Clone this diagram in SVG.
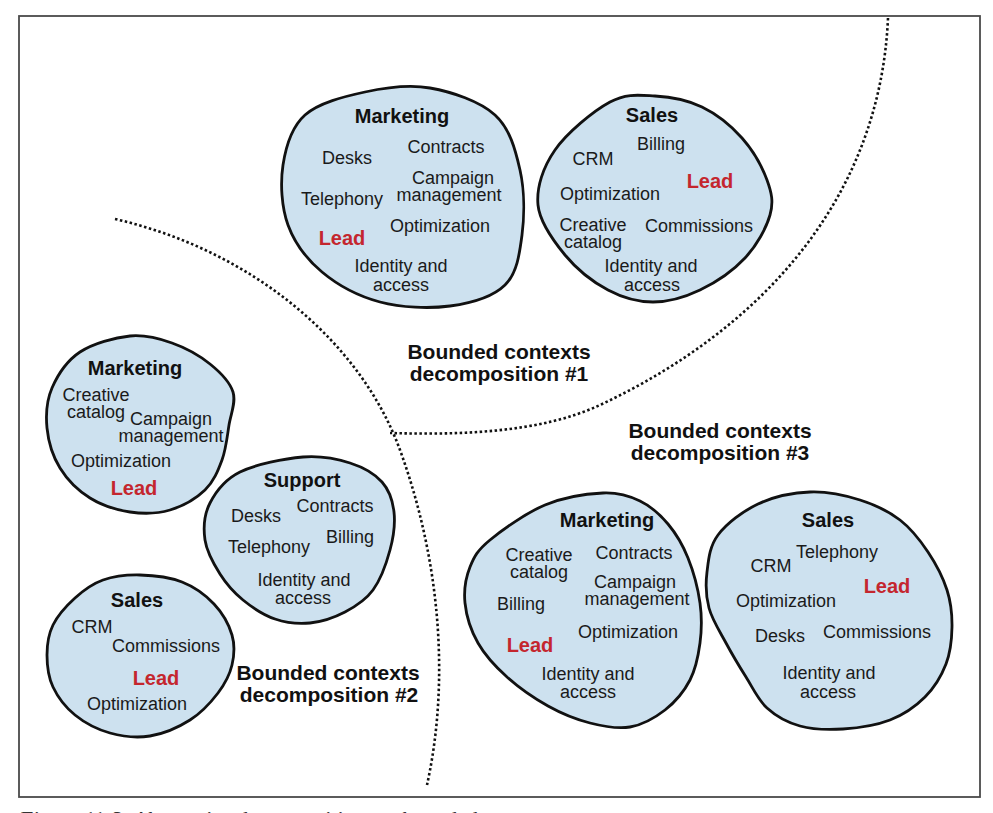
<svg xmlns="http://www.w3.org/2000/svg" width="993" height="813" viewBox="0 0 993 813">
<style>
.blob{fill:#cde1ef;stroke:#111;stroke-width:2.8}
.t{font-family:"Liberation Sans",Arial,sans-serif;font-size:18px;fill:#1a1a1a;text-anchor:middle}
.h{font-family:"Liberation Sans",Arial,sans-serif;font-size:20px;font-weight:bold;fill:#111;text-anchor:middle}
.lead{font-family:"Liberation Sans",Arial,sans-serif;font-size:20px;font-weight:bold;fill:#c4262e;text-anchor:middle}
.lbl{font-family:"Liberation Sans",Arial,sans-serif;font-size:21px;font-weight:bold;fill:#111;text-anchor:middle}
.dot{fill:none;stroke:#111;stroke-width:2.6;stroke-dasharray:2.5 2.5}
.cap{font-family:"Liberation Serif","Times New Roman",serif;font-size:22px;font-style:italic;fill:#333}
</style>
<rect x="0" y="0" width="993" height="813" fill="#fff"/>
<rect x="19" y="16" width="961" height="781" fill="none" stroke="#4a4a4a" stroke-width="1.8"/>

<g id="connectors">
<path class="dot" d="M888,18 C880,200 760,330 600,405 C540,433 460,435 390,433"/>
<path class="dot" d="M115,219 C250,250 360,340 400,450 C440,560 450,680 427,785"/>
</g>

<g id="marketing1">
<path class="blob" d="M365,92 C385.8,87.5 408.3,84.2 430,88 C451.7,91.8 480,101.3 495,115 C510,128.7 515.5,150 520,170 C524.5,190 524.5,215.8 522,235 C519.5,254.2 517,273.2 505,285 C493,296.8 470.8,303.2 450,306 C429.2,308.8 401.3,307.7 380,302 C358.7,296.3 337.3,284.8 322,272 C306.7,259.2 294.5,242.8 288,225 C281.5,207.2 280.2,183.3 283,165 C285.8,146.7 291.3,127.2 305,115 C318.7,102.8 344.2,96.5 365,92 Z"/>
<text class="h" x="402" y="123">Marketing</text>
<text class="t" x="347" y="164">Desks</text>
<text class="t" x="446" y="153">Contracts</text>
<text class="t" x="453" y="184">Campaign<tspan x="449" dy="17">management</tspan></text>
<text class="t" x="342" y="205">Telephony</text>
<text class="t" x="440" y="232">Optimization</text>
<text class="lead" x="342" y="245">Lead</text>
<text class="t" x="401" y="272">Identity and<tspan x="401" dy="19">access</tspan></text>
</g>

<g id="sales1">
<path class="blob" d="M610,102 C626.7,93 639.7,95.2 655,96 C670.3,96.8 687.5,100 702,107 C716.5,114 731.2,125.8 742,138 C752.8,150.2 762.3,167.2 767,180 C771.7,192.8 773.7,202 770,215 C766.3,228 756.7,245.5 745,258 C733.3,270.5 715.3,282.7 700,290 C684.7,297.3 668.3,302 653,302 C637.7,302 622.7,297.8 608,290 C593.3,282.2 576.7,269.2 565,255 C553.3,240.8 539.7,222.5 538,205 C536.3,187.5 543,167.2 555,150 C567,132.8 593.3,111 610,102 Z"/>
<text class="h" x="652" y="122">Sales</text>
<text class="t" x="661" y="150">Billing</text>
<text class="t" x="593" y="165">CRM</text>
<text class="lead" x="710" y="188">Lead</text>
<text class="t" x="610" y="200">Optimization</text>
<text class="t" x="593" y="231">Creative<tspan x="593" dy="17">catalog</tspan></text>
<text class="t" x="699" y="232">Commissions</text>
<text class="t" x="651" y="272">Identity and<tspan x="652" dy="19">access</tspan></text>
</g>

<g id="label1">
<text class="lbl" x="499" y="359">Bounded contexts<tspan x="499" dy="22">decomposition #1</tspan></text>
</g>

<g id="marketing2">
<path class="blob" d="M130,336 C145.3,334.5 158.7,338.3 172,343 C185.3,347.7 199.8,355.8 210,364 C220.2,372.2 229.8,381.8 233,392 C236.2,402.2 230.8,413.7 229,425 C227.2,436.3 226,449.2 222,460 C218,470.8 213.7,481.7 205,490 C196.3,498.3 182.5,506.3 170,510 C157.5,513.7 143.3,514 130,512 C116.7,510 101.7,505.3 90,498 C78.3,490.7 67.2,479.7 60,468 C52.8,456.3 48.3,441.3 47,428 C45.7,414.7 46.5,400.7 52,388 C57.5,375.3 67,360.7 80,352 C93,343.3 114.7,337.5 130,336 Z"/>
<text class="h" x="135" y="375">Marketing</text>
<text class="t" x="96" y="401">Creative<tspan x="96" dy="17">catalog</tspan></text>
<text class="t" x="171" y="425">Campaign<tspan x="171" dy="17">management</tspan></text>
<text class="t" x="121" y="467">Optimization</text>
<text class="lead" x="134" y="495">Lead</text>
</g>

<g id="support2">
<path class="blob" d="M303,457 C321.3,455.5 336.8,458.8 350,463 C363.2,467.2 374.7,473.8 382,482 C389.3,490.2 392.7,500.7 394,512 C395.3,523.3 393.5,537 390,550 C386.5,563 380.5,579.7 373,590 C365.5,600.3 355.5,606.5 345,612 C334.5,617.5 321.7,621.8 310,623 C298.3,624.2 286.2,622.8 275,619 C263.8,615.2 252.2,607.5 243,600 C233.8,592.5 226.3,584 220,574 C213.7,564 206.7,551.8 205,540 C203.3,528.2 204.2,514.3 210,503 C215.8,491.7 224.5,479.7 240,472 C255.5,464.3 284.7,458.5 303,457 Z"/>
<text class="h" x="302" y="487">Support</text>
<text class="t" x="335" y="512">Contracts</text>
<text class="t" x="256" y="522">Desks</text>
<text class="t" x="350" y="543">Billing</text>
<text class="t" x="269" y="553">Telephony</text>
<text class="t" x="304" y="586">Identity and<tspan x="303" dy="18">access</tspan></text>
</g>

<g id="sales2">
<path class="blob" d="M140,575 C153.2,575.3 169.7,577.2 182,582 C194.3,586.8 205.7,595.2 214,604 C222.3,612.8 229,624.8 232,635 C235,645.2 234.3,655.3 232,665 C229.7,674.7 225,683.8 218,693 C211,702.2 201.3,712.8 190,720 C178.7,727.2 163.3,733.8 150,736 C136.7,738.2 122.5,736.5 110,733 C97.5,729.5 84.5,722.7 75,715 C65.5,707.3 57.7,697 53,687 C48.3,677 47,665.3 47,655 C47,644.7 48.3,634.5 53,625 C57.7,615.5 66.7,605.5 75,598 C83.3,590.5 92.2,583.8 103,580 C113.8,576.2 126.8,574.7 140,575 Z"/>
<text class="h" x="137" y="607">Sales</text>
<text class="t" x="92" y="633">CRM</text>
<text class="t" x="166" y="652">Commissions</text>
<text class="lead" x="156" y="685">Lead</text>
<text class="t" x="137" y="710">Optimization</text>
</g>

<g id="label2">
<text class="lbl" x="328" y="680">Bounded contexts<tspan x="329" dy="22">decomposition #2</tspan></text>
</g>

<g id="label3">
<text class="lbl" x="720" y="438">Bounded contexts<tspan x="720" dy="22">decomposition #3</tspan></text>
</g>

<g id="marketing3">
<path class="blob" d="M603,493 C618.8,492.3 629.2,495.8 640,501 C650.8,506.2 660,514.5 668,524 C676,533.5 682.7,544.8 688,558 C693.3,571.2 698,588.8 700,603 C702,617.2 701.7,630.2 700,643 C698.3,655.8 695.8,668.8 690,680 C684.2,691.2 675,702.2 665,710 C655,717.8 642.5,724.8 630,727 C617.5,729.2 603.7,726.5 590,723 C576.3,719.5 561.8,713.7 548,706 C534.2,698.3 518.7,687.5 507,677 C495.3,666.5 485,655.3 478,643 C471,630.7 466.3,615.7 465,603 C463.7,590.3 465.8,577.5 470,567 C474.2,556.5 477.5,550.3 490,540 C502.5,529.7 526.2,512.8 545,505 C563.8,497.2 587.2,493.7 603,493 Z"/>
<text class="h" x="607" y="527">Marketing</text>
<text class="t" x="539" y="561">Creative<tspan x="539" dy="17">catalog</tspan></text>
<text class="t" x="634" y="559">Contracts</text>
<text class="t" x="635" y="588">Campaign<tspan x="637" dy="17">management</tspan></text>
<text class="t" x="521" y="610">Billing</text>
<text class="t" x="628" y="638">Optimization</text>
<text class="lead" x="530" y="652">Lead</text>
<text class="t" x="588" y="680">Identity and<tspan x="588" dy="18">access</tspan></text>
</g>

<g id="sales3">
<path class="blob" d="M810,492 C827,491.3 845,495.3 860,500 C875,504.7 888.7,511.3 900,520 C911.3,528.7 920.2,540.3 928,552 C935.8,563.7 943,577.5 947,590 C951,602.5 952.2,614.7 952,627 C951.8,639.3 950.5,652.3 946,664 C941.5,675.7 934.3,687.7 925,697 C915.7,706.3 903.7,714.7 890,720 C876.3,725.3 858,728 843,729 C828,730 812.7,729.5 800,726 C787.3,722.5 776,716.2 767,708 C758,699.8 752.8,687.8 746,677 C739.2,666.2 732.2,654.5 726,643 C719.8,631.5 712.2,619.8 709,608 C705.8,596.2 705.5,584.2 707,572 C708.5,559.8 709.5,546.3 718,535 C726.5,523.7 742.7,511.2 758,504 C773.3,496.8 793,492.7 810,492 Z"/>
<text class="h" x="828" y="527">Sales</text>
<text class="t" x="837" y="558">Telephony</text>
<text class="t" x="771" y="572">CRM</text>
<text class="lead" x="887" y="593">Lead</text>
<text class="t" x="786" y="607">Optimization</text>
<text class="t" x="780" y="642">Desks</text>
<text class="t" x="877" y="638">Commissions</text>
<text class="t" x="829" y="679">Identity and<tspan x="828" dy="19">access</tspan></text>
</g>

<text class="cap" x="19" y="826">Figure 11-3. Alternative decompositions to bounded contexts</text>
</svg>
